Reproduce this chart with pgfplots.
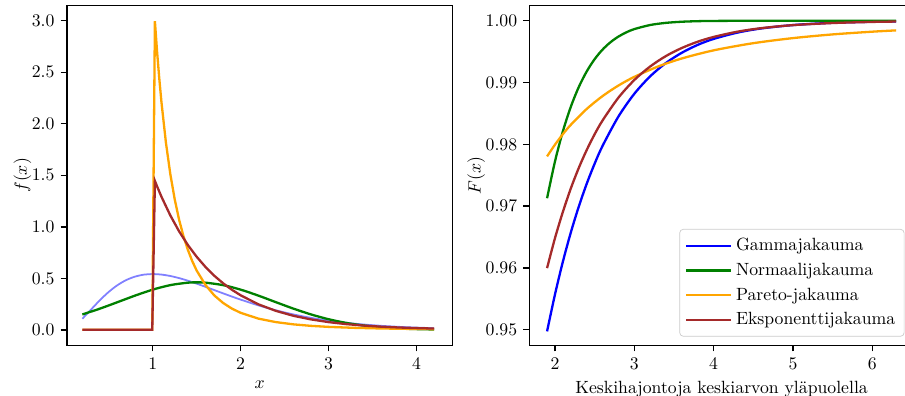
\documentclass[border=0pt]{standalone}
\usepackage{pgfplots}
\pgfplotsset{compat=1.18}
\definecolor{mplgreen}{rgb}{0,0.5,0}
\definecolor{mplorange}{rgb}{1,0.647,0}
\definecolor{mplbrown}{rgb}{0.647,0.165,0.165}
\definecolor{legframe}{rgb}{0.8,0.8,0.8}
\begin{document}
\begin{tikzpicture}
\pgfplotsset{every axis/.append style={scale only axis, axis line style={line width=0.8pt}, tick align=outside, tick pos=left, major tick length=3.5pt, every tick/.style={black, line width=0.8pt}, scaled ticks=false, ylabel shift=-6.5pt}}
\begin{axis}[at={(37.8pt,28.6pt)}, anchor=south west, width=217.6pt, height=192pt,
  xmin=0.025, xmax=4.405, ymin=-0.15, ymax=3.15,
  xtick={1,2,3,4}, ytick={0,0.5,1,1.5,2,2.5,3},
  yticklabel style={/pgf/number format/.cd, fixed, fixed zerofill, precision=1},
  xlabel={$x$}, ylabel={$f(x)$}]
\addplot[blue!50, line width=1pt, smooth] coordinates {(0.2,0.1073)(0.3,0.1976)(0.4,0.2876)(0.5,0.3679)(0.6,0.4337)(0.7,0.4834)(0.8,0.5168)(0.9,0.5356)(1.0,0.5413)(1.1,0.5363)(1.2,0.5225)(1.3,0.5021)(1.4,0.4767)(1.5,0.4481)(1.6,0.4174)(1.7,0.3858)(1.8,0.3541)(1.9,0.3230)(2.0,0.2931)(2.2,0.2377)(2.4,0.1896)(2.6,0.1492)(2.8,0.1160)(3.0,0.0892)(3.2,0.0681)(3.4,0.0515)(3.6,0.0387)(3.8,0.0289)(4.0,0.0215)(4.2,0.0159)};
\addplot[mplgreen, line width=1.3pt, smooth] coordinates {(0.2,0.1493)(0.4,0.2056)(0.6,0.2685)(0.8,0.3323)(1.0,0.3900)(1.2,0.4339)(1.4,0.4576)(1.5,0.4607)(1.6,0.4576)(1.8,0.4339)(2.0,0.3900)(2.2,0.3323)(2.4,0.2685)(2.6,0.2056)(2.8,0.1493)(3.0,0.1028)(3.2,0.0671)(3.4,0.0415)(3.6,0.0244)(3.8,0.0135)(4.0,0.0071)(4.2,0.0036)};
\addplot[mplorange, line width=1.3pt] coordinates {(0.2,0)(0.995,0)(1.025,2.995)(1.05,2.698)(1.075,2.437)(1.1,2.206)(1.15,1.819)(1.2,1.513)(1.25,1.268)(1.3,1.069)(1.35,0.908)(1.4,0.776)(1.45,0.666)(1.5,0.575)(1.6,0.435)(1.7,0.334)(1.8,0.261)(1.9,0.206)(2.0,0.165)(2.2,0.109)(2.4,0.075)(2.6,0.053)(2.8,0.0385)(3.0,0.0285)(3.3,0.0189)(3.6,0.0130)(3.9,0.0092)(4.2,0.0066)};
\addplot[mplbrown, line width=1.3pt] coordinates {(0.2,0)(0.995,0)(1.025,1.445)(1.05,1.392)(1.1,1.291)(1.2,1.111)(1.3,0.956)(1.4,0.823)(1.5,0.709)(1.6,0.610)(1.7,0.525)(1.8,0.452)(1.9,0.389)(2.0,0.335)(2.2,0.248)(2.4,0.184)(2.6,0.136)(2.8,0.101)(3.0,0.0747)(3.2,0.0553)(3.4,0.0410)(3.6,0.0304)(3.8,0.0225)(4.0,0.0167)(4.2,0.0123)};
\end{axis}
\begin{axis}[at={(299.1pt,28.6pt)}, anchor=south west, width=216.8pt, height=192pt,
  xmin=1.68, xmax=6.52, ymin=0.94749, ymax=1.0025,
  xtick={2,3,4,5,6}, ytick={0.95,0.96,0.97,0.98,0.99,1.00},
  yticklabel style={/pgf/number format/.cd, fixed, fixed zerofill, precision=2},
  xlabel={Keskihajontoja keskiarvon yläpuolella}, ylabel={$F(x)$},
  legend cell align=left,
  legend style={at={(1,0)}, anchor=south east, xshift=-5.1pt, yshift=4.9pt, draw=legframe, rounded corners=2pt, fill=white, fill opacity=0.8, text opacity=1, row sep=1.5pt, inner xsep=3pt, inner ysep=3pt},
  legend image code/.code={\draw[#1] (0pt,0pt) -- (21pt,0pt); \path (0pt,0pt) -- (25.5pt,0pt);}]
\addplot[blue, line width=1.3pt, smooth] coordinates {(1.9,0.94974)(2.0,0.95573)(2.1,0.96105)(2.2,0.96577)(2.3,0.96994)(2.4,0.97363)(2.5,0.97688)(2.6,0.97976)(2.8,0.98451)(3.0,0.98818)(3.2,0.99101)(3.4,0.99318)(3.6,0.99483)(3.8,0.99610)(4.0,0.99706)(4.3,0.99808)(4.6,0.99875)(5.0,0.99930)(5.5,0.99967)(6.0,0.99984)(6.3,0.99990)};
\addlegendentry{Gammajakauma}
\addplot[mplgreen, line width=1.3pt, smooth] coordinates {(1.9,0.97128)(2.0,0.97725)(2.1,0.98214)(2.2,0.98610)(2.3,0.98928)(2.4,0.99180)(2.5,0.99379)(2.6,0.99534)(2.7,0.99653)(2.8,0.99744)(2.9,0.99813)(3.0,0.99865)(3.2,0.99931)(3.4,0.99966)(3.6,0.99984)(3.8,0.99993)(4.0,0.99997)(4.5,1.0)(5.0,1.0)(5.5,1.0)(6.0,1.0)(6.3,1.0)};
\addlegendentry{Normaalijakauma}
\addplot[mplorange, line width=1.3pt, smooth] coordinates {(1.9,0.97805)(2.0,0.97996)(2.1,0.98166)(2.2,0.98317)(2.4,0.98573)(2.6,0.98781)(2.8,0.98952)(3.0,0.99092)(3.3,0.99260)(3.6,0.99390)(4.0,0.99521)(4.5,0.99637)(5.0,0.99719)(5.5,0.99779)(6.0,0.99823)(6.3,0.99844)};
\addlegendentry{Pareto-jakauma}
\addplot[mplbrown, line width=1.3pt, smooth] coordinates {(1.9,0.95997)(2.0,0.96484)(2.1,0.96910)(2.2,0.97289)(2.3,0.97619)(2.4,0.97909)(2.5,0.98164)(2.6,0.98387)(2.8,0.98756)(3.0,0.99041)(3.2,0.99260)(3.4,0.99430)(3.6,0.99560)(3.8,0.99661)(4.0,0.99738)(4.3,0.99823)(4.6,0.99880)(5.0,0.99929)(5.5,0.99963)(6.0,0.99981)(6.3,0.99987)};
\addlegendentry{Eksponenttijakauma}
\end{axis}
\pgfresetboundingbox
\path[use as bounding box] (0,0) rectangle (511.1pt,223.6pt);
\end{tikzpicture}
\end{document}
